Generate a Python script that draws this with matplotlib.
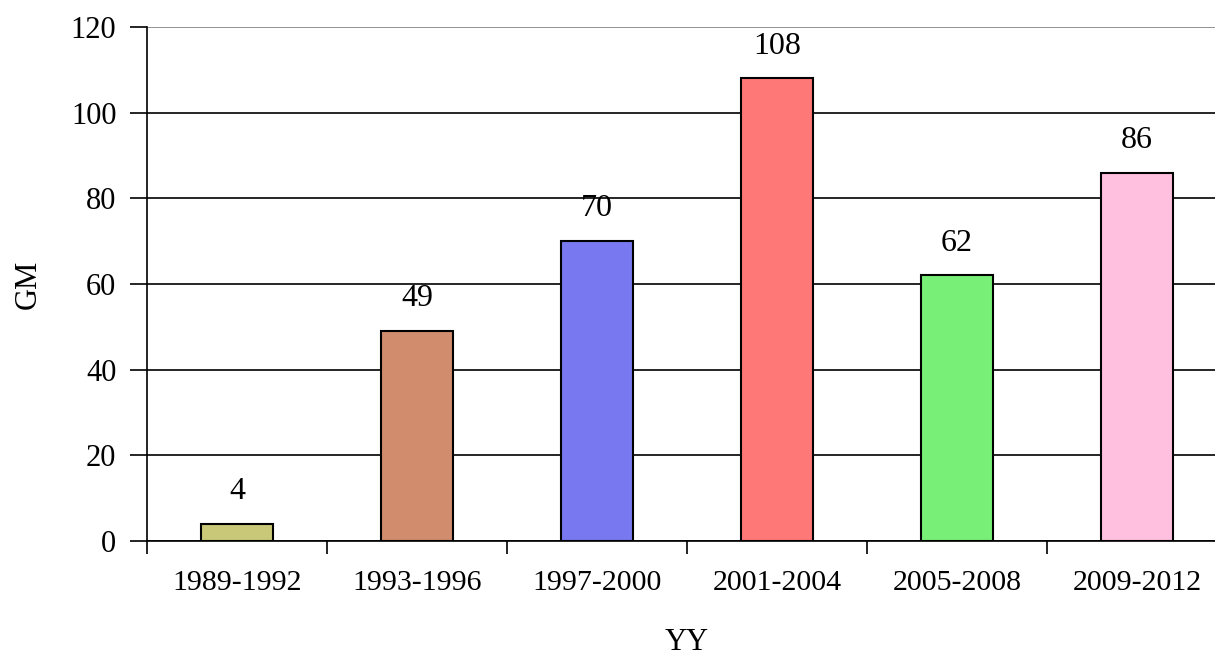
import numpy as np
import matplotlib.pyplot as plt

periods = ['1989-1992', '1993-1996', '1997-2000', '2001-2004', '2005-2008', '2009-2012']
gm = [4, 49, 70, 108, 62, 86]
colors = ['#c8c878', '#d08c6c', '#7878f0', '#ff7878', '#78f078', '#ffc0e0']

plt.rcParams['font.family'] = ['Liberation Serif', 'DejaVu Serif']

fig = plt.figure(figsize=(12.15, 6.55), dpi=100)
ax = fig.add_axes([147 / 1215, 114 / 655, 1080 / 1215, 514 / 655])

x = np.arange(len(periods))
ax.bar(x, gm, width=0.4, color=colors, edgecolor='black', linewidth=1.5, zorder=3)
for xi, v in zip(x, gm):
    ax.text(xi, v + 5.8, str(v), ha='center', va='baseline', fontsize=23)

ax.set_xlim(-0.5, len(periods) - 0.5)
ax.set_ylim(0, 120)
ax.set_yticks(range(0, 121, 20))
ax.yaxis.grid(True, color='black', linewidth=1.2, zorder=0)
ax.get_ygridlines()[-1].set_color('#808080')
ax.set_xticks(x)
ax.set_xticklabels(periods, fontsize=21.5)
ax.set_xticks(np.arange(-0.5, len(periods)), minor=True)
ax.tick_params(axis='x', which='major', length=0, pad=21)
ax.tick_params(axis='x', which='minor', length=9, width=1.2)
ax.tick_params(axis='y', length=12, width=1.2, labelsize=22, pad=10)

for s in ['top', 'right']:
    ax.spines[s].set_visible(False)
ax.spines['left'].set_linewidth(1.2)
ax.spines['bottom'].set_linewidth(1.2)

ax.set_ylabel('GM', fontsize=22, labelpad=20)
ax.set_xlabel('YY', fontsize=22, labelpad=23)

fig.savefig('out.png', dpi=100)
